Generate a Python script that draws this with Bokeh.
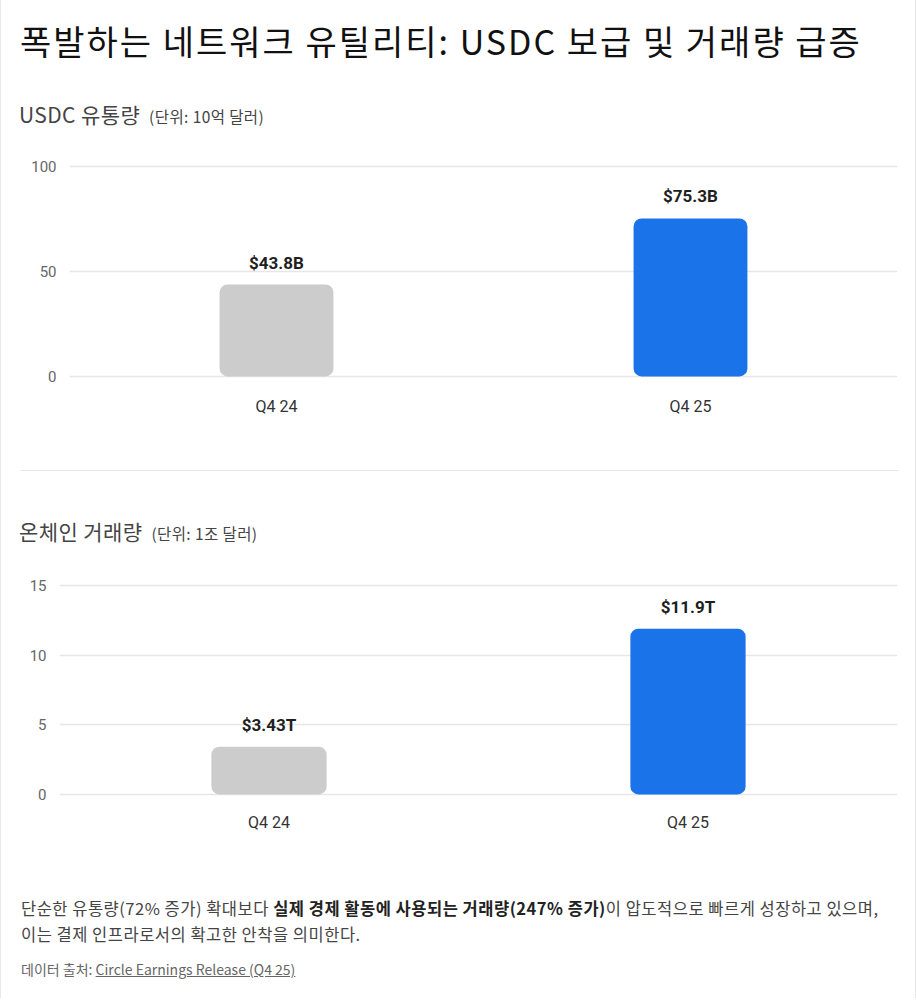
from bokeh.plotting import figure
from bokeh.models import Div, ColumnDataSource, FixedTicker, Range1d, FactorRange
from bokeh.layouts import column
from bokeh.core.properties import value
from bokeh.embed import file_html
from bokeh.resources import INLINE

categories = ["Q4 24", "Q4 25"]
supply = [43.8, 75.3]
volume = [3.43, 11.9]
supply_labels = ["$43.8B", "$75.3B"]
volume_labels = ["$3.43T", "$11.9T"]
bar_colors = ["#cccccc", "#1a73e8"]
supply_ticks = [0, 50, 100]
volume_ticks = [0, 5, 10, 15]

KR = "Noto Sans CJK KR"
NUM = "Roboto"
W = 914


def div(html, height, css=None):
    st = {"font-family": KR, "overflow": "hidden", "width": f"{W}px"}
    if css:
        st.update(css)
    return Div(text=html, width=W, height=height, margin=(0, 0, 0, 0), styles=st)


def bar_chart(vals, labels, ticks, ymax, left, height, top, frame_h, xstand):
    pad = ymax * 0.01
    fh = frame_h * 1.02
    t = top - frame_h * 0.01
    src = ColumnDataSource(dict(cat=categories, val=vals, lab=labels, color=bar_colors))
    p = figure(x_range=FactorRange(*categories, range_padding=0), y_range=Range1d(-pad, ymax + pad),
               frame_width=896 - left, frame_height=int(round(fh)),
               output_backend="svg", toolbar_location=None,
               min_border_left=left, min_border_right=W - 896, min_border_top=int(round(t)),
               min_border_bottom=int(round(height - t - fh)), margin=(0, 0, 0, 0))
    p.outline_line_color = None
    p.background_fill_color = "white"
    p.border_fill_color = "white"
    p.vbar(x="cat", top="val", width=0.275, source=src, fill_color="color",
           line_color=None, border_radius=8)
    p.text(x="cat", y="val", text="lab", source=src, y_offset=-12,
           text_align="center", text_baseline="bottom", text_font=value(NUM),
           text_font_style="bold", text_font_size="17px", text_color="#1f1f1f")
    p.xgrid.grid_line_color = None
    p.ygrid.grid_line_color = "#e6e6e6"
    p.ygrid.grid_line_width = 1.5
    p.yaxis.ticker = FixedTicker(ticks=ticks)
    p.yaxis.minor_tick_line_color = None
    for ax in (p.xaxis, p.yaxis):
        ax.axis_line_color = None
        ax.major_tick_line_color = None
        ax.minor_tick_line_color = None
        ax.major_tick_out = 0
        ax.major_tick_in = 0
        ax.major_label_text_font = NUM
    p.yaxis.major_label_text_font_size = "15px"
    p.xaxis.major_label_text_font_size = "16px"
    p.yaxis.major_label_text_color = "#666666"
    p.xaxis.major_label_text_color = "#333333"
    p.xaxis.major_label_standoff = xstand
    p.yaxis.major_label_standoff = 13
    return p


title = div("폭발하는 네트워크 유틸리티: USDC 보급 및 거래량 급증", 90,
            {"font-size": "34px", "color": "#111", "padding-left": "19px",
             "padding-top": "17px", "box-sizing": "border-box", "font-weight": "400",
             "letter-spacing": "2px"})
sub1 = div('USDC 유통량 <span style="font-size:15.5px">&nbsp;(단위: 10억 달러)</span>', 50,
           {"font-size": "21px", "color": "#444", "padding-left": "18px",
            "padding-top": "9px", "box-sizing": "border-box", "letter-spacing": "0.4px"})
fig1 = bar_chart(supply, supply_labels, supply_ticks, 100, 68, 300, 26, 210, 18)
sep = div('<div style="margin-left:20px;width:877px;border-top:1px solid #e6e6e6;margin-top:30px"></div>', 60)
sub2 = div('온체인 거래량 <span style="font-size:15.5px">&nbsp;(단위: 1조 달러)</span>', 60,
           {"font-size": "21px", "color": "#444", "padding-left": "18px",
            "padding-top": "16px", "box-sizing": "border-box", "letter-spacing": "0.4px"})
fig2 = bar_chart(volume, volume_labels, volume_ticks, 15, 58, 290, 25, 209, 16)
foot = div('<div style="font-size:16.5px;color:#444;line-height:26px;padding-top:45px;letter-spacing:0.5px">'
           '단순한 유통량(72% 증가) 확대보다 <b style="color:#222">실제 경제 활동에 사용되는 거래량(247% 증가)</b>'
           '이 압도적으로 빠르게 성장하고 있으며,<br>이는 결제 인프라로서의 확고한 안착을 의미한다.</div>'
           '<div style="font-size:14px;color:#666;margin-top:12px">데이터 출처: '
           '<u>Circle Earnings Release (Q4 25)</u></div>', 148,
           {"padding-left": "20px", "box-sizing": "border-box"})

layout = column(title, sub1, column(fig1, margin=(0, 0, 0, 0)), sep, sub2,
                column(fig2, margin=(0, 0, 0, 0)), foot, spacing=0, margin=(0, 0, 0, 0),
                styles={"border-left": "1px solid #e8e8e8", "border-right": "1px solid #e8e8e8",
                        "background": "white"})

open("out.html", "w").write(file_html(layout, INLINE))
